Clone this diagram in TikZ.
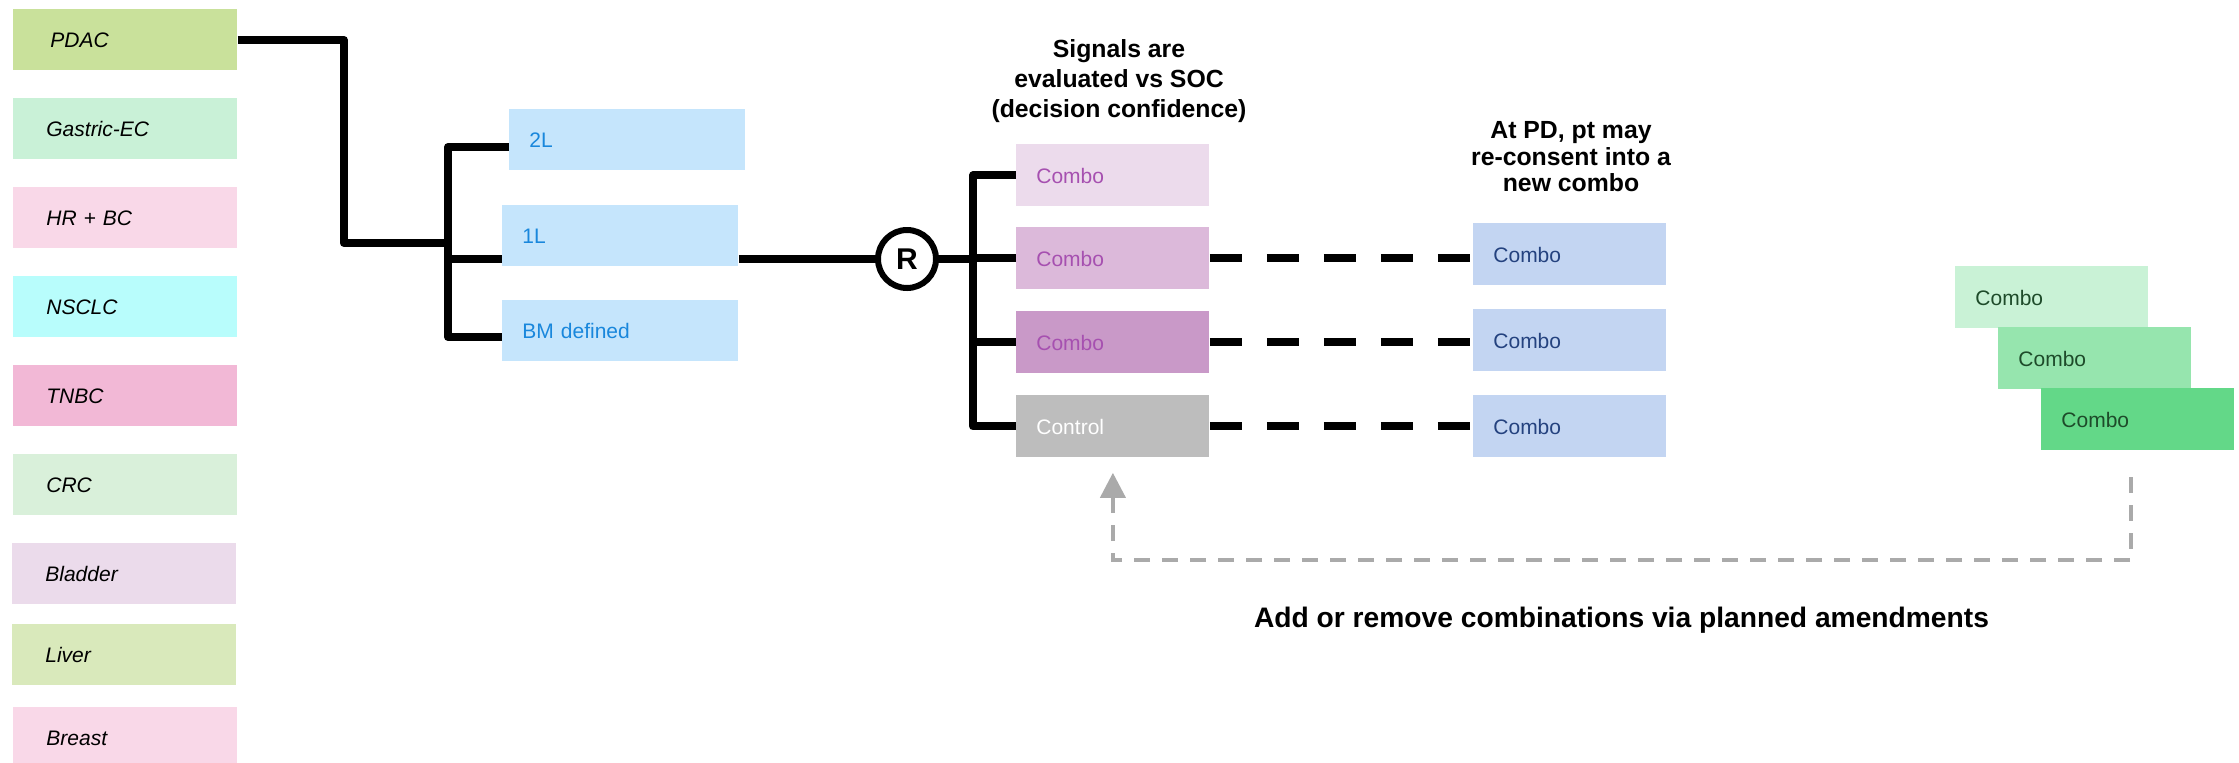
\documentclass[tikz,border=0pt]{standalone}
\usepackage{fontspec}
\setmainfont{Liberation Sans}
\usetikzlibrary{arrows.meta}

\definecolor{pdac}{HTML}{C9E19B}
\definecolor{gastric}{HTML}{C9F1D7}
\definecolor{hrbc}{HTML}{F9D8E8}
\definecolor{nsclc}{HTML}{B8FDFC}
\definecolor{tnbc}{HTML}{F2B8D6}
\definecolor{crc}{HTML}{D9F0DA}
\definecolor{bladder}{HTML}{EBDBEB}
\definecolor{liver}{HTML}{D9E9BB}
\definecolor{stagebg}{HTML}{C5E5FC}
\definecolor{stagefg}{HTML}{1987DC}
\definecolor{combo1}{HTML}{ECDBEC}
\definecolor{combo2}{HTML}{DCB9DA}
\definecolor{combo3}{HTML}{C999C8}
\definecolor{combofg}{HTML}{A650B0}
\definecolor{ctrlgray}{HTML}{BDBDBD}
\definecolor{nextbg}{HTML}{C3D5F2}
\definecolor{nextfg}{HTML}{24427F}
\definecolor{green1}{HTML}{C9F2D6}
\definecolor{green2}{HTML}{96E5AE}
\definecolor{green3}{HTML}{63D888}
\definecolor{greenfg}{HTML}{1E4B2A}
\definecolor{amendgray}{HTML}{AAAAAA}

\begin{document}
\begin{tikzpicture}[x=0.5pt, y=-0.5pt,
  box/.style={anchor=north west, inner ysep=0pt, align=left, text height=7.6pt, text depth=0pt, font=\fontsize{10.5}{12}\selectfont},
  site/.style={box, minimum height=30.5pt, text width=79pt, inner xsep=16.5pt, font=\fontsize{10.5}{12}\selectfont\itshape},
  stage/.style={box, fill=stagebg, text=stagefg, minimum height=30.5pt, text width=98pt, inner xsep=10pt},
  arm/.style={box, minimum height=31pt, text width=76.5pt, inner xsep=10pt},
  wire/.style={line width=4pt, line join=round},
  dashlink/.style={line width=4pt, dash pattern=on 16pt off 12.5pt},
  amend/.style={line width=2pt, draw=amendgray, dash pattern=on 8pt off 6pt, -{Triangle[length=12.5pt, width=12.5pt]}},
  header/.style={align=center, font=\bfseries\fontsize{12.4}{15}\selectfont}]
         \useasboundingbox (0,0) rectangle (2239,762);
         \node[site, fill=pdac, inner xsep=18.5pt, text width=75pt] (PDAC) at (13,9) {PDAC};
         \node[site, fill=gastric] (GEC) at (13,98) {Gastric-EC};
         \node[site, fill=hrbc] (HRBC) at (13,187) {HR + BC};
         \node[site, fill=nsclc] (NSCLC) at (13,276) {NSCLC};
         \node[site, fill=tnbc] (TNBC) at (13,365) {TNBC};
         \node[site, fill=crc] (CRC) at (13,454) {CRC};
         \node[site, fill=bladder] (BLAD) at (12,543) {Bladder};
         \node[site, fill=liver] (LIV) at (12,624) {Liver};
         \node[site, fill=hrbc] (BRE) at (13,707) {Breast};
         \node[stage] (L2) at (509,109) {2L};
         \node[stage] (L1) at (502,205) {1L};
         \node[stage] (BM) at (502,300) {BM defined};
         \node[circle, draw, line width=3pt, minimum size=29pt, inner sep=0pt, font=\bfseries\fontsize{15}{18}\selectfont] (R) at (907,259) {R};
         \node[arm, fill=combo1, text=combofg] (C1) at (1016,144) {Combo};
         \node[arm, fill=combo2, text=combofg] (C2) at (1016,227) {Combo};
         \node[arm, fill=combo3, text=combofg] (C3) at (1016,311) {Combo};
         \node[arm, fill=ctrlgray, text=white] (CTRL) at (1016,395) {Control};
         \node[arm, fill=nextbg, text=nextfg] (N1) at (1473,223) {Combo};
         \node[arm, fill=nextbg, text=nextfg] (N2) at (1473,309) {Combo};
         \node[arm, fill=nextbg, text=nextfg] (N3) at (1473,395) {Combo};
         \node[arm, fill=green1, text=greenfg] (G1) at (1955,266) {Combo};
         \node[arm, fill=green2, text=greenfg] (G2) at (1998,327) {Combo};
         \node[arm, fill=green3, text=greenfg] (G3) at (2041,388) {Combo};
         \node[header] (H1) at (1119,80.7) {Signals are\\evaluated vs SOC\\(decision confidence)};
         \node[header, font=\bfseries\fontsize{12.4}{13.25}\selectfont] (H2) at (1571,156.75) {At PD, pt may\\re-consent into a\\new combo};
         \node[anchor=base, font=\bfseries\fontsize{14.1}{17}\selectfont] (A) at (1621.5,627) {Add or remove combinations via planned amendments};
         \coordinate (J1) at (448,147);
         \coordinate (J2) at (448,259);
         \coordinate (J3) at (448,337);
         \coordinate (K) at (973,259);
         \coordinate (A0) at (2131,477);
         \draw [wire] (PDAC.east) -- ++(106,0) |- (448,243);
         \draw [wire] (L2.west |- J1) -- (J1) -- (J3) -- (BM.west |- J3);
         \draw [wire] (J2) -- (L1.west |- J2);
         \draw [wire] (L1.east |- J2) -- (R);
         \draw [wire] (R) -- (K);
         \draw [wire] (C1.west) -| (K |- CTRL.west) -- (CTRL.west);
         \draw [wire] (K |- C2.west) -- (C2.west);
         \draw [wire] (K |- C3.west) -- (C3.west);
         \draw [dashlink] (C2.east) -- (C2.east -| N1.west);
         \draw [dashlink] (C3.east) -- (C3.east -| N2.west);
         \draw [dashlink] (CTRL.east) -- (CTRL.east -| N3.west);
         \draw [amend, shorten >=7.5pt] (A0) -- (2131,560) -| (CTRL.south);
\end{tikzpicture}
\end{document}
